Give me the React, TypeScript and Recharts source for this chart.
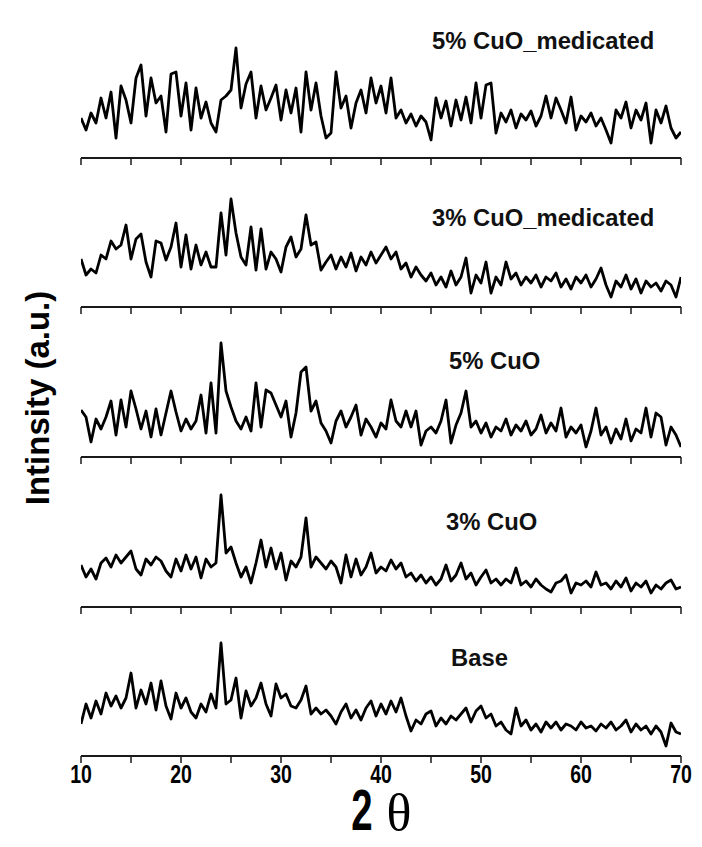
import React from 'react';
import { LineChart, Line, XAxis, YAxis } from 'recharts';

const TWO_THETA = [
  10, 10.5, 11, 11.5, 12, 12.5, 13, 13.5, 14, 14.5, 15, 15.5, 16, 16.5, 17, 17.5, 18, 18.5, 19, 19.5,
  20, 20.5, 21, 21.5, 22, 22.5, 23, 23.5, 24, 24.5, 25, 25.5, 26, 26.5, 27, 27.5, 28, 28.5, 29, 29.5,
  30, 30.5, 31, 31.5, 32, 32.5, 33, 33.5, 34, 34.5, 35, 35.5, 36, 36.5, 37, 37.5, 38, 38.5, 39, 39.5,
  40, 40.5, 41, 41.5, 42, 42.5, 43, 43.5, 44, 44.5, 45, 45.5, 46, 46.5, 47, 47.5, 48, 48.5, 49, 49.5,
  50, 50.5, 51, 51.5, 52, 52.5, 53, 53.5, 54, 54.5, 55, 55.5, 56, 56.5, 57, 57.5, 58, 58.5, 59, 59.5,
  60, 60.5, 61, 61.5, 62, 62.5, 63, 63.5, 64, 64.5, 65, 65.5, 66, 66.5, 67, 67.5, 68, 68.5, 69, 69.5,
  70,
];

const X_TICKS = [10, 15, 20, 25, 30, 35, 40, 45, 50, 55, 60, 65, 70];

const LABELS = ['5% CuO_medicated', '3% CuO_medicated', '5% CuO', '3% CuO', 'Base'];

const CUO5_MEDICATED = [
  40, 28, 45, 35, 60, 40, 66, 20, 72, 58, 35, 80, 93, 42, 80, 55, 62, 26, 84, 86,
  42, 75, 28, 70, 40, 56, 35, 26, 58, 62, 68, 110, 50, 74, 86, 40, 72, 48, 60, 73,
  38, 68, 45, 70, 26, 86, 48, 75, 42, 20, 25, 86, 50, 62, 30, 55, 68, 45, 80, 55,
  72, 45, 80, 40, 48, 35, 44, 32, 42, 36, 18, 60, 40, 57, 32, 58, 38, 61, 35, 75,
  40, 73, 75, 25, 45, 36, 48, 30, 44, 38, 47, 32, 42, 62, 40, 60, 48, 35, 61, 28,
  42, 36, 45, 32, 40, 28, 15, 48, 40, 56, 30, 48, 38, 55, 15, 48, 35, 52, 30, 20,
  26,
];

const CUO3_MEDICATED = [
  48, 32, 38, 34, 52, 48, 66, 58, 62, 82, 48, 68, 73, 45, 30, 66, 64, 47, 60, 84,
  40, 72, 38, 62, 42, 55, 40, 40, 94, 52, 108, 74, 50, 42, 80, 37, 78, 38, 55, 48,
  35, 60, 70, 50, 58, 92, 62, 65, 37, 45, 52, 38, 50, 40, 54, 36, 50, 42, 55, 44,
  52, 60, 48, 55, 38, 44, 30, 40, 32, 26, 34, 22, 30, 20, 36, 22, 30, 49, 14, 32,
  24, 45, 14, 30, 22, 45, 28, 34, 22, 30, 24, 32, 20, 30, 26, 34, 20, 28, 18, 30,
  24, 32, 20, 28, 39, 22, 10, 26, 20, 32, 18, 28, 14, 26, 20, 24, 16, 26, 22, 10,
  30,
];

const CUO5 = [
  47, 40, 15, 38, 28, 40, 56, 22, 57, 30, 66, 48, 28, 46, 20, 48, 22, 44, 66, 45,
  26, 38, 28, 36, 62, 24, 74, 24, 114, 66, 50, 36, 28, 40, 26, 74, 30, 67, 64, 52,
  40, 56, 20, 44, 85, 90, 46, 56, 34, 26, 14, 36, 46, 30, 40, 52, 22, 38, 30, 20,
  34, 28, 57, 36, 30, 46, 30, 46, 12, 26, 30, 24, 36, 57, 14, 32, 44, 66, 30, 36,
  24, 34, 20, 30, 26, 38, 22, 32, 26, 36, 22, 28, 42, 24, 34, 26, 49, 20, 30, 24,
  32, 10, 26, 49, 22, 30, 14, 28, 18, 38, 16, 28, 24, 49, 20, 44, 40, 12, 30, 22,
  10,
];

const CUO3 = [
  42, 30, 38, 28, 44, 49, 40, 52, 44, 50, 56, 38, 32, 48, 42, 50, 46, 36, 30, 48,
  36, 52, 38, 50, 29, 48, 40, 44, 112, 54, 60, 44, 30, 40, 24, 44, 67, 40, 59, 38,
  54, 27, 46, 40, 50, 89, 40, 50, 44, 38, 46, 40, 24, 52, 30, 48, 32, 40, 54, 34,
  40, 36, 47, 38, 44, 30, 34, 26, 32, 24, 30, 22, 28, 42, 26, 32, 44, 28, 34, 22,
  30, 37, 24, 28, 22, 28, 24, 39, 22, 26, 20, 28, 22, 18, 15, 24, 26, 32, 14, 24,
  22, 26, 20, 35, 22, 24, 18, 26, 20, 29, 16, 24, 20, 26, 14, 22, 18, 24, 27, 18,
  20,
];

const BASE = [
  32, 52, 38, 55, 42, 63, 50, 60, 48, 58, 83, 48, 66, 52, 73, 46, 75, 50, 37, 63,
  48, 58, 44, 38, 52, 44, 62, 48, 113, 52, 56, 78, 38, 65, 50, 58, 73, 52, 40, 72,
  58, 62, 50, 48, 56, 70, 42, 48, 42, 46, 40, 32, 44, 52, 38, 46, 36, 48, 55, 40,
  52, 42, 55, 44, 58, 40, 25, 36, 32, 42, 45, 30, 38, 32, 40, 36, 42, 48, 34, 45,
  50, 38, 42, 30, 34, 26, 22, 48, 30, 36, 26, 32, 24, 34, 28, 34, 26, 32, 30, 26,
  34, 28, 30, 25, 32, 28, 34, 26, 30, 36, 24, 32, 26, 30, 22, 30, 24, 10, 33, 24,
  22,
];

const SERIES = [CUO5_MEDICATED, CUO3_MEDICATED, CUO5, CUO3, BASE];

// layout
const PANEL_BOTTOMS = [158, 307, 457, 607, 756];
const PLOT_H = 123;
const M_TOP = 5;
const AXIS_H = 30;
const AXIS_H_LAST = 45;
const LABEL_POS = [
  { x: 432, y: 49 },
  { x: 432, y: 226 },
  { x: 449, y: 369 },
  { x: 446, y: 530 },
  { x: 451, y: 666 },
];

const AXIS_COLOR = '#1a1a1a';
const SANS = "'Liberation Sans', Arial, sans-serif";

const renderTick = (props: any) => {
  const { x, y, payload } = props;
  if (payload.value % 10 !== 0) return <g />;
  return (
    <text
      transform={`translate(${x},${y + 18}) scale(0.78,1)`}
      textAnchor="middle"
      fontFamily={SANS}
      fontWeight="bold"
      fontSize={25}
      fill="#000"
    >
      {payload.value}
    </text>
  );
};
const renderNoTick = () => <g />;

function Panel({ idx }: { idx: number }) {
  const values = SERIES[idx];
  const data = TWO_THETA.map((x, i) => ({ x, v: values[i] }));
  const last = idx === SERIES.length - 1;
  const axisH = last ? AXIS_H_LAST : AXIS_H;
  return (
    <div style={{ position: 'absolute', left: 0, top: PANEL_BOTTOMS[idx] - PLOT_H - M_TOP }}>
      <LineChart
        width={702}
        height={M_TOP + PLOT_H + axisH}
        data={data}
        margin={{ top: M_TOP, right: 21, bottom: 0, left: 81 }}
      >
        <XAxis
          dataKey="x"
          type="number"
          domain={[10, 70]}
          ticks={X_TICKS}
          interval={0}
          height={axisH}
          tickSize={7}
          tickMargin={2}
          axisLine={{ stroke: AXIS_COLOR, strokeWidth: 2 }}
          tickLine={{ stroke: AXIS_COLOR, strokeWidth: 1.5 }}
          tick={last ? renderTick : renderNoTick}
          allowDataOverflow
        />
        <YAxis
          type="number"
          domain={[0, PLOT_H]}
          width={0}
          tick={false}
          tickLine={false}
          axisLine={{ stroke: AXIS_COLOR, strokeWidth: 2 }}
          allowDataOverflow
        />
        <Line
          dataKey="v"
          type="linear"
          stroke="#000"
          strokeWidth={2.8}
          strokeLinejoin="round"
          dot={false}
          isAnimationActive={false}
        />
      </LineChart>
    </div>
  );
}

export default function App() {
  return (
    <div style={{ position: 'absolute', left: 0, top: 0, width: 702, height: 847, background: '#fff', overflow: 'hidden' }}>
      {SERIES.map((_, i) => (
        <Panel key={i} idx={i} />
      ))}
      <svg width={702} height={847} style={{ position: 'absolute', left: 0, top: 0, pointerEvents: 'none' }}>
        {LABELS.map((t, i) => (
          <text key={t} x={LABEL_POS[i].x} y={LABEL_POS[i].y} fontFamily={SANS} fontWeight="bold" fontSize={23.8} fill="#111">
            {t}
          </text>
        ))}
        <text
          transform="translate(49,398) rotate(-90)"
          textAnchor="middle"
          fontFamily={SANS}
          fontWeight="bold"
          fontSize={33}
          fill="#000"
        >
          Intinsity (a.u.)
        </text>
        <text
          transform="translate(362,830) scale(0.8,1.2)"
          textAnchor="middle"
          fontFamily={SANS}
          fontWeight="bold"
          fontSize={48}
          fill="#000"
        >
          2
        </text>
        <text
          x={399}
          y={830}
          textAnchor="middle"
          fontFamily="'Liberation Serif', 'Times New Roman', serif"
          fontSize={52}
          fill="#000"
        >
          θ
        </text>
      </svg>
    </div>
  );
}
